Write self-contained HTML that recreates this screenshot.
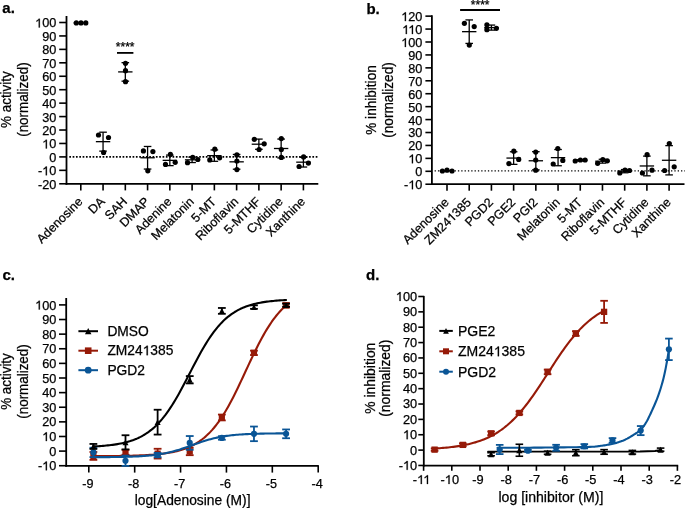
<!DOCTYPE html>
<html><head><meta charset="utf-8"><style>
html,body{margin:0;padding:0;background:#fff;}
body{width:685px;height:508px;overflow:hidden;}
svg{display:block;font-family:"Liberation Sans", sans-serif;will-change:transform;}
text{stroke:#000;stroke-width:0.25px;}
</style></head><body>
<svg width="685" height="508" viewBox="0 0 685 508">
<rect width="685" height="508" fill="#fff"/>
<text x="2.3" y="12.6" font-size="15" font-weight="bold">a.</text>
<text transform="translate(10.6 99.6) rotate(-90) scale(0.9091 1)" font-size="14.74" text-anchor="middle">% activity</text>
<text transform="translate(27.5 99.6) rotate(-90) scale(0.9091 1)" font-size="14.74" text-anchor="middle">(normalized)</text>
<line x1="69.3" y1="156.9" x2="319" y2="156.9" stroke="#000" stroke-width="1.6" stroke-dasharray="1.7 1.63"/>
<line x1="66.5" y1="16" x2="66.5" y2="184.7" stroke="#000" stroke-width="1.8"/>
<line x1="65.6" y1="183.8" x2="318.3" y2="183.8" stroke="#000" stroke-width="1.8"/>
<line x1="59.2" y1="22.5" x2="66.5" y2="22.5" stroke="#000" stroke-width="1.6"/>
<text x="35.11 42.17 49.24" y="27.47" font-size="12.7"> 00</text><path d="M763 0L583 0L583 1147C518 1085 412 1023 330 980C280 955 245 940 223 930L223 1104C300 1140 380 1190 453 1249C530 1310 570 1370 590 1409L763 1409Z" transform="translate(35.11 27.47) scale(0.00620 -0.00620)" stroke="#000" stroke-width="40.3"/>
<line x1="59.2" y1="35.94" x2="66.5" y2="35.94" stroke="#000" stroke-width="1.6"/>
<text x="56.3" y="40.91" font-size="12.7" text-anchor="end">90</text>
<line x1="59.2" y1="49.38" x2="66.5" y2="49.38" stroke="#000" stroke-width="1.6"/>
<text x="56.3" y="54.35" font-size="12.7" text-anchor="end">80</text>
<line x1="59.2" y1="62.82" x2="66.5" y2="62.82" stroke="#000" stroke-width="1.6"/>
<text x="56.3" y="67.79" font-size="12.7" text-anchor="end">70</text>
<line x1="59.2" y1="76.26" x2="66.5" y2="76.26" stroke="#000" stroke-width="1.6"/>
<text x="56.3" y="81.23" font-size="12.7" text-anchor="end">60</text>
<line x1="59.2" y1="89.7" x2="66.5" y2="89.7" stroke="#000" stroke-width="1.6"/>
<text x="56.3" y="94.67" font-size="12.7" text-anchor="end">50</text>
<line x1="59.2" y1="103.14" x2="66.5" y2="103.14" stroke="#000" stroke-width="1.6"/>
<text x="56.3" y="108.11" font-size="12.7" text-anchor="end">40</text>
<line x1="59.2" y1="116.58" x2="66.5" y2="116.58" stroke="#000" stroke-width="1.6"/>
<text x="56.3" y="121.55" font-size="12.7" text-anchor="end">30</text>
<line x1="59.2" y1="130.02" x2="66.5" y2="130.02" stroke="#000" stroke-width="1.6"/>
<text x="56.3" y="134.99" font-size="12.7" text-anchor="end">20</text>
<line x1="59.2" y1="143.46" x2="66.5" y2="143.46" stroke="#000" stroke-width="1.6"/>
<text x="42.17 49.24" y="148.43" font-size="12.7"> 0</text><path d="M763 0L583 0L583 1147C518 1085 412 1023 330 980C280 955 245 940 223 930L223 1104C300 1140 380 1190 453 1249C530 1310 570 1370 590 1409L763 1409Z" transform="translate(42.17 148.43) scale(0.00620 -0.00620)" stroke="#000" stroke-width="40.3"/>
<line x1="59.2" y1="156.9" x2="66.5" y2="156.9" stroke="#000" stroke-width="1.6"/>
<text x="56.3" y="161.87" font-size="12.7" text-anchor="end">0</text>
<line x1="59.2" y1="170.34" x2="66.5" y2="170.34" stroke="#000" stroke-width="1.6"/>
<text x="37.94 42.17 49.24" y="175.31" font-size="12.7">- 0</text><path d="M763 0L583 0L583 1147C518 1085 412 1023 330 980C280 955 245 940 223 930L223 1104C300 1140 380 1190 453 1249C530 1310 570 1370 590 1409L763 1409Z" transform="translate(42.17 175.31) scale(0.00620 -0.00620)" stroke="#000" stroke-width="40.3"/>
<line x1="59.2" y1="183.78" x2="66.5" y2="183.78" stroke="#000" stroke-width="1.6"/>
<text x="56.3" y="188.75" font-size="12.7" text-anchor="end">-20</text>
<line x1="80.8" y1="183.8" x2="80.8" y2="190.4" stroke="#000" stroke-width="1.6"/>
<text transform="translate(83.4 202.3) rotate(-45)" font-size="12.5" text-anchor="end">Adenosine</text>
<line x1="103.06" y1="183.8" x2="103.06" y2="190.4" stroke="#000" stroke-width="1.6"/>
<text transform="translate(105.66 202.3) rotate(-45)" font-size="12.5" text-anchor="end">DA</text>
<line x1="125.32" y1="183.8" x2="125.32" y2="190.4" stroke="#000" stroke-width="1.6"/>
<text transform="translate(127.92 202.3) rotate(-45)" font-size="12.5" text-anchor="end">SAH</text>
<line x1="147.58" y1="183.8" x2="147.58" y2="190.4" stroke="#000" stroke-width="1.6"/>
<text transform="translate(150.18 202.3) rotate(-45)" font-size="12.5" text-anchor="end">DMAP</text>
<line x1="169.84" y1="183.8" x2="169.84" y2="190.4" stroke="#000" stroke-width="1.6"/>
<text transform="translate(172.44 202.3) rotate(-45)" font-size="12.5" text-anchor="end">Adenine</text>
<line x1="192.1" y1="183.8" x2="192.1" y2="190.4" stroke="#000" stroke-width="1.6"/>
<text transform="translate(194.7 202.3) rotate(-45)" font-size="12.5" text-anchor="end">Melatonin</text>
<line x1="214.36" y1="183.8" x2="214.36" y2="190.4" stroke="#000" stroke-width="1.6"/>
<text transform="translate(216.96 202.3) rotate(-45)" font-size="12.5" text-anchor="end">5-MT</text>
<line x1="236.62" y1="183.8" x2="236.62" y2="190.4" stroke="#000" stroke-width="1.6"/>
<text transform="translate(239.22 202.3) rotate(-45)" font-size="12.5" text-anchor="end">Riboflavin</text>
<line x1="258.88" y1="183.8" x2="258.88" y2="190.4" stroke="#000" stroke-width="1.6"/>
<text transform="translate(261.48 202.3) rotate(-45)" font-size="12.5" text-anchor="end">5-MTHF</text>
<line x1="281.14" y1="183.8" x2="281.14" y2="190.4" stroke="#000" stroke-width="1.6"/>
<text transform="translate(283.74 202.3) rotate(-45)" font-size="12.5" text-anchor="end">Cytidine</text>
<line x1="303.4" y1="183.8" x2="303.4" y2="190.4" stroke="#000" stroke-width="1.6"/>
<text transform="translate(306 202.3) rotate(-45)" font-size="12.5" text-anchor="end">Xanthine</text>
<line x1="73.6" y1="22.9" x2="88" y2="22.9" stroke="#000" stroke-width="1.3"/>
<circle cx="76.3" cy="22.9" r="2.6" fill="#000"/>
<circle cx="81" cy="22.9" r="2.6" fill="#000"/>
<circle cx="85.8" cy="22.9" r="2.6" fill="#000"/>
<line x1="103.06" y1="132.2" x2="103.06" y2="151.13" stroke="#000" stroke-width="1.3"/>
<line x1="99.26" y1="132.2" x2="106.86" y2="132.2" stroke="#000" stroke-width="1.3"/>
<line x1="99.26" y1="151.13" x2="106.86" y2="151.13" stroke="#000" stroke-width="1.3"/>
<line x1="95.86" y1="141.67" x2="110.26" y2="141.67" stroke="#000" stroke-width="1.3"/>
<circle cx="98.5" cy="135" r="2.6" fill="#000"/>
<circle cx="108.5" cy="137.5" r="2.6" fill="#000"/>
<circle cx="103.6" cy="152.5" r="2.6" fill="#000"/>
<line x1="125.32" y1="62.64" x2="125.32" y2="81.16" stroke="#000" stroke-width="1.3"/>
<line x1="121.52" y1="62.64" x2="129.12" y2="62.64" stroke="#000" stroke-width="1.3"/>
<line x1="121.52" y1="81.16" x2="129.12" y2="81.16" stroke="#000" stroke-width="1.3"/>
<line x1="118.12" y1="71.9" x2="132.52" y2="71.9" stroke="#000" stroke-width="1.3"/>
<circle cx="125.5" cy="63.3" r="2.6" fill="#000"/>
<circle cx="125.5" cy="70.7" r="2.6" fill="#000"/>
<circle cx="125.5" cy="81.7" r="2.6" fill="#000"/>
<line x1="147.58" y1="146.47" x2="147.58" y2="169.06" stroke="#000" stroke-width="1.3"/>
<line x1="143.78" y1="146.47" x2="151.38" y2="146.47" stroke="#000" stroke-width="1.3"/>
<line x1="143.78" y1="169.06" x2="151.38" y2="169.06" stroke="#000" stroke-width="1.3"/>
<line x1="140.38" y1="157.77" x2="154.78" y2="157.77" stroke="#000" stroke-width="1.3"/>
<circle cx="143.4" cy="150.9" r="2.6" fill="#000"/>
<circle cx="152.9" cy="151.6" r="2.6" fill="#000"/>
<circle cx="147.8" cy="170.8" r="2.6" fill="#000"/>
<line x1="169.84" y1="155.09" x2="169.84" y2="165.64" stroke="#000" stroke-width="1.3"/>
<line x1="166.04" y1="155.09" x2="173.64" y2="155.09" stroke="#000" stroke-width="1.3"/>
<line x1="166.04" y1="165.64" x2="173.64" y2="165.64" stroke="#000" stroke-width="1.3"/>
<line x1="162.64" y1="160.37" x2="177.04" y2="160.37" stroke="#000" stroke-width="1.3"/>
<circle cx="170.4" cy="154.4" r="2.6" fill="#000"/>
<circle cx="165.5" cy="164.4" r="2.6" fill="#000"/>
<circle cx="175.2" cy="162.3" r="2.6" fill="#000"/>
<line x1="192.1" y1="157.12" x2="192.1" y2="162.55" stroke="#000" stroke-width="1.3"/>
<line x1="188.3" y1="157.12" x2="195.9" y2="157.12" stroke="#000" stroke-width="1.3"/>
<line x1="188.3" y1="162.55" x2="195.9" y2="162.55" stroke="#000" stroke-width="1.3"/>
<line x1="184.9" y1="159.83" x2="199.3" y2="159.83" stroke="#000" stroke-width="1.3"/>
<circle cx="192.7" cy="157.3" r="2.6" fill="#000"/>
<circle cx="187.5" cy="162.7" r="2.6" fill="#000"/>
<circle cx="197.8" cy="159.5" r="2.6" fill="#000"/>
<line x1="214.36" y1="149.96" x2="214.36" y2="161.3" stroke="#000" stroke-width="1.3"/>
<line x1="210.56" y1="149.96" x2="218.16" y2="149.96" stroke="#000" stroke-width="1.3"/>
<line x1="210.56" y1="161.3" x2="218.16" y2="161.3" stroke="#000" stroke-width="1.3"/>
<line x1="207.16" y1="155.63" x2="221.56" y2="155.63" stroke="#000" stroke-width="1.3"/>
<circle cx="214.8" cy="149.2" r="2.6" fill="#000"/>
<circle cx="209.8" cy="159.9" r="2.6" fill="#000"/>
<circle cx="219.6" cy="157.8" r="2.6" fill="#000"/>
<line x1="236.62" y1="154.45" x2="236.62" y2="169.22" stroke="#000" stroke-width="1.3"/>
<line x1="232.82" y1="154.45" x2="240.42" y2="154.45" stroke="#000" stroke-width="1.3"/>
<line x1="232.82" y1="169.22" x2="240.42" y2="169.22" stroke="#000" stroke-width="1.3"/>
<line x1="229.42" y1="161.83" x2="243.82" y2="161.83" stroke="#000" stroke-width="1.3"/>
<circle cx="236.9" cy="154.9" r="2.6" fill="#000"/>
<circle cx="236.9" cy="161" r="2.6" fill="#000"/>
<circle cx="236.9" cy="169.6" r="2.6" fill="#000"/>
<line x1="258.88" y1="139.09" x2="258.88" y2="149.31" stroke="#000" stroke-width="1.3"/>
<line x1="255.08" y1="139.09" x2="262.68" y2="139.09" stroke="#000" stroke-width="1.3"/>
<line x1="255.08" y1="149.31" x2="262.68" y2="149.31" stroke="#000" stroke-width="1.3"/>
<line x1="251.68" y1="144.2" x2="266.08" y2="144.2" stroke="#000" stroke-width="1.3"/>
<circle cx="254.3" cy="139.3" r="2.6" fill="#000"/>
<circle cx="264.2" cy="143.8" r="2.6" fill="#000"/>
<circle cx="259.1" cy="149.5" r="2.6" fill="#000"/>
<line x1="281.14" y1="139.06" x2="281.14" y2="157.94" stroke="#000" stroke-width="1.3"/>
<line x1="277.34" y1="139.06" x2="284.94" y2="139.06" stroke="#000" stroke-width="1.3"/>
<line x1="277.34" y1="157.94" x2="284.94" y2="157.94" stroke="#000" stroke-width="1.3"/>
<line x1="273.94" y1="148.5" x2="288.34" y2="148.5" stroke="#000" stroke-width="1.3"/>
<circle cx="281.3" cy="138.6" r="2.6" fill="#000"/>
<circle cx="281.3" cy="149.5" r="2.6" fill="#000"/>
<circle cx="281.3" cy="157.4" r="2.6" fill="#000"/>
<line x1="303.4" y1="157.3" x2="303.4" y2="167.03" stroke="#000" stroke-width="1.3"/>
<line x1="299.6" y1="157.3" x2="307.2" y2="157.3" stroke="#000" stroke-width="1.3"/>
<line x1="299.6" y1="167.03" x2="307.2" y2="167.03" stroke="#000" stroke-width="1.3"/>
<line x1="296.2" y1="162.17" x2="310.6" y2="162.17" stroke="#000" stroke-width="1.3"/>
<circle cx="303.6" cy="156.9" r="2.6" fill="#000"/>
<circle cx="299.1" cy="166.5" r="2.6" fill="#000"/>
<circle cx="308.4" cy="163.1" r="2.6" fill="#000"/>
<line x1="117" y1="52.9" x2="133.4" y2="52.9" stroke="#000" stroke-width="1.8"/>
<text x="125.2" y="51" font-size="12" text-anchor="middle">****</text>
<text x="366.4" y="14" font-size="15" font-weight="bold">b.</text>
<text transform="translate(376.3 100) rotate(-90) scale(0.9091 1)" font-size="14.96" text-anchor="middle">% inhibition</text>
<text transform="translate(393 100) rotate(-90) scale(0.9091 1)" font-size="14.96" text-anchor="middle">(normalized)</text>
<line x1="434.6" y1="170.9" x2="685" y2="170.9" stroke="#000" stroke-width="1.4" stroke-dasharray="1.3 2.03"/>
<line x1="431.9" y1="15.2" x2="431.9" y2="185" stroke="#000" stroke-width="1.8"/>
<line x1="431" y1="184.1" x2="684.5" y2="184.1" stroke="#000" stroke-width="1.8"/>
<line x1="425.4" y1="16.14" x2="431.9" y2="16.14" stroke="#000" stroke-width="1.6"/>
<text x="401.21 408.27 415.34" y="21.11" font-size="12.7"> 20</text><path d="M763 0L583 0L583 1147C518 1085 412 1023 330 980C280 955 245 940 223 930L223 1104C300 1140 380 1190 453 1249C530 1310 570 1370 590 1409L763 1409Z" transform="translate(401.21 21.11) scale(0.00620 -0.00620)" stroke="#000" stroke-width="40.3"/>
<line x1="425.4" y1="29.07" x2="431.9" y2="29.07" stroke="#000" stroke-width="1.6"/>
<text x="402.15 408.27 415.34" y="34.04" font-size="12.7">  0</text><path d="M763 0L583 0L583 1147C518 1085 412 1023 330 980C280 955 245 940 223 930L223 1104C300 1140 380 1190 453 1249C530 1310 570 1370 590 1409L763 1409Z" transform="translate(402.15 34.04) scale(0.00620 -0.00620)" stroke="#000" stroke-width="40.3"/><path d="M763 0L583 0L583 1147C518 1085 412 1023 330 980C280 955 245 940 223 930L223 1104C300 1140 380 1190 453 1249C530 1310 570 1370 590 1409L763 1409Z" transform="translate(408.27 34.04) scale(0.00620 -0.00620)" stroke="#000" stroke-width="40.3"/>
<line x1="425.4" y1="42" x2="431.9" y2="42" stroke="#000" stroke-width="1.6"/>
<text x="401.21 408.27 415.34" y="46.97" font-size="12.7"> 00</text><path d="M763 0L583 0L583 1147C518 1085 412 1023 330 980C280 955 245 940 223 930L223 1104C300 1140 380 1190 453 1249C530 1310 570 1370 590 1409L763 1409Z" transform="translate(401.21 46.97) scale(0.00620 -0.00620)" stroke="#000" stroke-width="40.3"/>
<line x1="425.4" y1="54.93" x2="431.9" y2="54.93" stroke="#000" stroke-width="1.6"/>
<text x="422.4" y="59.9" font-size="12.7" text-anchor="end">90</text>
<line x1="425.4" y1="67.86" x2="431.9" y2="67.86" stroke="#000" stroke-width="1.6"/>
<text x="422.4" y="72.83" font-size="12.7" text-anchor="end">80</text>
<line x1="425.4" y1="80.79" x2="431.9" y2="80.79" stroke="#000" stroke-width="1.6"/>
<text x="422.4" y="85.76" font-size="12.7" text-anchor="end">70</text>
<line x1="425.4" y1="93.72" x2="431.9" y2="93.72" stroke="#000" stroke-width="1.6"/>
<text x="422.4" y="98.69" font-size="12.7" text-anchor="end">60</text>
<line x1="425.4" y1="106.65" x2="431.9" y2="106.65" stroke="#000" stroke-width="1.6"/>
<text x="422.4" y="111.62" font-size="12.7" text-anchor="end">50</text>
<line x1="425.4" y1="119.58" x2="431.9" y2="119.58" stroke="#000" stroke-width="1.6"/>
<text x="422.4" y="124.55" font-size="12.7" text-anchor="end">40</text>
<line x1="425.4" y1="132.51" x2="431.9" y2="132.51" stroke="#000" stroke-width="1.6"/>
<text x="422.4" y="137.48" font-size="12.7" text-anchor="end">30</text>
<line x1="425.4" y1="145.44" x2="431.9" y2="145.44" stroke="#000" stroke-width="1.6"/>
<text x="422.4" y="150.41" font-size="12.7" text-anchor="end">20</text>
<line x1="425.4" y1="158.37" x2="431.9" y2="158.37" stroke="#000" stroke-width="1.6"/>
<text x="408.27 415.34" y="163.34" font-size="12.7"> 0</text><path d="M763 0L583 0L583 1147C518 1085 412 1023 330 980C280 955 245 940 223 930L223 1104C300 1140 380 1190 453 1249C530 1310 570 1370 590 1409L763 1409Z" transform="translate(408.27 163.34) scale(0.00620 -0.00620)" stroke="#000" stroke-width="40.3"/>
<line x1="425.4" y1="171.3" x2="431.9" y2="171.3" stroke="#000" stroke-width="1.6"/>
<text x="422.4" y="176.27" font-size="12.7" text-anchor="end">0</text>
<line x1="425.4" y1="184.23" x2="431.9" y2="184.23" stroke="#000" stroke-width="1.6"/>
<text x="404.04 408.27 415.34" y="189.2" font-size="12.7">- 0</text><path d="M763 0L583 0L583 1147C518 1085 412 1023 330 980C280 955 245 940 223 930L223 1104C300 1140 380 1190 453 1249C530 1310 570 1370 590 1409L763 1409Z" transform="translate(408.27 189.20) scale(0.00620 -0.00620)" stroke="#000" stroke-width="40.3"/>
<line x1="447" y1="184.1" x2="447" y2="190.7" stroke="#000" stroke-width="1.6"/>
<text transform="translate(449.6 203) rotate(-45)" font-size="12.5" text-anchor="end">Adenosine</text>
<line x1="469.21" y1="184.1" x2="469.21" y2="190.7" stroke="#000" stroke-width="1.6"/>
<g transform="translate(471.81 203) rotate(-45)"><text x="-59.76 -52.12 -41.71 -34.76 -27.81 -20.86 -13.90 -6.95" y="0" font-size="12.5">ZM24 385</text><path d="M763 0L583 0L583 1147C518 1085 412 1023 330 980C280 955 245 940 223 930L223 1104C300 1140 380 1190 453 1249C530 1310 570 1370 590 1409L763 1409Z" transform="translate(-27.81 0.00) scale(0.00610 -0.00610)" stroke="#000" stroke-width="41.0"/></g>
<line x1="491.42" y1="184.1" x2="491.42" y2="190.7" stroke="#000" stroke-width="1.6"/>
<text transform="translate(494.02 203) rotate(-45)" font-size="12.5" text-anchor="end">PGD2</text>
<line x1="513.63" y1="184.1" x2="513.63" y2="190.7" stroke="#000" stroke-width="1.6"/>
<text transform="translate(516.23 203) rotate(-45)" font-size="12.5" text-anchor="end">PGE2</text>
<line x1="535.84" y1="184.1" x2="535.84" y2="190.7" stroke="#000" stroke-width="1.6"/>
<text transform="translate(538.44 203) rotate(-45)" font-size="12.5" text-anchor="end">PGI2</text>
<line x1="558.05" y1="184.1" x2="558.05" y2="190.7" stroke="#000" stroke-width="1.6"/>
<text transform="translate(560.65 203) rotate(-45)" font-size="12.5" text-anchor="end">Melatonin</text>
<line x1="580.26" y1="184.1" x2="580.26" y2="190.7" stroke="#000" stroke-width="1.6"/>
<text transform="translate(582.86 203) rotate(-45)" font-size="12.5" text-anchor="end">5-MT</text>
<line x1="602.47" y1="184.1" x2="602.47" y2="190.7" stroke="#000" stroke-width="1.6"/>
<text transform="translate(605.07 203) rotate(-45)" font-size="12.5" text-anchor="end">Riboflavin</text>
<line x1="624.68" y1="184.1" x2="624.68" y2="190.7" stroke="#000" stroke-width="1.6"/>
<text transform="translate(627.28 203) rotate(-45)" font-size="12.5" text-anchor="end">5-MTHF</text>
<line x1="646.89" y1="184.1" x2="646.89" y2="190.7" stroke="#000" stroke-width="1.6"/>
<text transform="translate(649.49 203) rotate(-45)" font-size="12.5" text-anchor="end">Cytidine</text>
<line x1="669.1" y1="184.1" x2="669.1" y2="190.7" stroke="#000" stroke-width="1.6"/>
<text transform="translate(671.7 203) rotate(-45)" font-size="12.5" text-anchor="end">Xanthine</text>
<line x1="439.8" y1="170.73" x2="454.2" y2="170.73" stroke="#000" stroke-width="1.3"/>
<circle cx="442.4" cy="171" r="2.6" fill="#000"/>
<circle cx="447" cy="170.2" r="2.6" fill="#000"/>
<circle cx="452" cy="171" r="2.6" fill="#000"/>
<line x1="469.21" y1="19.92" x2="469.21" y2="43.42" stroke="#000" stroke-width="1.3"/>
<line x1="465.41" y1="19.92" x2="473.01" y2="19.92" stroke="#000" stroke-width="1.3"/>
<line x1="465.41" y1="43.42" x2="473.01" y2="43.42" stroke="#000" stroke-width="1.3"/>
<line x1="462.01" y1="31.67" x2="476.41" y2="31.67" stroke="#000" stroke-width="1.3"/>
<circle cx="464.4" cy="23.3" r="2.6" fill="#000"/>
<circle cx="474.2" cy="26.6" r="2.6" fill="#000"/>
<circle cx="469.3" cy="45.1" r="2.6" fill="#000"/>
<line x1="491.42" y1="25.08" x2="491.42" y2="30.12" stroke="#000" stroke-width="1.3"/>
<line x1="487.62" y1="25.08" x2="495.22" y2="25.08" stroke="#000" stroke-width="1.3"/>
<line x1="487.62" y1="30.12" x2="495.22" y2="30.12" stroke="#000" stroke-width="1.3"/>
<line x1="484.22" y1="27.6" x2="498.62" y2="27.6" stroke="#000" stroke-width="1.3"/>
<circle cx="486.9" cy="24.8" r="2.6" fill="#000"/>
<circle cx="486.9" cy="29.7" r="2.6" fill="#000"/>
<circle cx="496.4" cy="28.3" r="2.6" fill="#000"/>
<line x1="513.63" y1="151.76" x2="513.63" y2="164.37" stroke="#000" stroke-width="1.3"/>
<line x1="509.83" y1="151.76" x2="517.43" y2="151.76" stroke="#000" stroke-width="1.3"/>
<line x1="509.83" y1="164.37" x2="517.43" y2="164.37" stroke="#000" stroke-width="1.3"/>
<line x1="506.43" y1="158.07" x2="520.83" y2="158.07" stroke="#000" stroke-width="1.3"/>
<circle cx="513.8" cy="151.2" r="2.6" fill="#000"/>
<circle cx="508.9" cy="163.6" r="2.6" fill="#000"/>
<circle cx="518.7" cy="159.4" r="2.6" fill="#000"/>
<line x1="535.84" y1="151.69" x2="535.84" y2="169.84" stroke="#000" stroke-width="1.3"/>
<line x1="532.04" y1="151.69" x2="539.64" y2="151.69" stroke="#000" stroke-width="1.3"/>
<line x1="532.04" y1="169.84" x2="539.64" y2="169.84" stroke="#000" stroke-width="1.3"/>
<line x1="528.64" y1="160.77" x2="543.04" y2="160.77" stroke="#000" stroke-width="1.3"/>
<circle cx="535.7" cy="152.1" r="2.6" fill="#000"/>
<circle cx="535.7" cy="160" r="2.6" fill="#000"/>
<circle cx="535.7" cy="170.2" r="2.6" fill="#000"/>
<line x1="558.05" y1="149.52" x2="558.05" y2="165.75" stroke="#000" stroke-width="1.3"/>
<line x1="554.25" y1="149.52" x2="561.85" y2="149.52" stroke="#000" stroke-width="1.3"/>
<line x1="554.25" y1="165.75" x2="561.85" y2="165.75" stroke="#000" stroke-width="1.3"/>
<line x1="550.85" y1="157.63" x2="565.25" y2="157.63" stroke="#000" stroke-width="1.3"/>
<circle cx="557.8" cy="148.5" r="2.6" fill="#000"/>
<circle cx="553.2" cy="164" r="2.6" fill="#000"/>
<circle cx="562.8" cy="160.4" r="2.6" fill="#000"/>
<line x1="580.26" y1="159.76" x2="580.26" y2="160.91" stroke="#000" stroke-width="1.3"/>
<line x1="576.46" y1="159.76" x2="584.06" y2="159.76" stroke="#000" stroke-width="1.3"/>
<line x1="576.46" y1="160.91" x2="584.06" y2="160.91" stroke="#000" stroke-width="1.3"/>
<line x1="573.06" y1="160.33" x2="587.46" y2="160.33" stroke="#000" stroke-width="1.3"/>
<circle cx="575.2" cy="161" r="2.6" fill="#000"/>
<circle cx="580.4" cy="160" r="2.6" fill="#000"/>
<circle cx="585.1" cy="160" r="2.6" fill="#000"/>
<line x1="602.47" y1="159.27" x2="602.47" y2="163.13" stroke="#000" stroke-width="1.3"/>
<line x1="598.67" y1="159.27" x2="606.27" y2="159.27" stroke="#000" stroke-width="1.3"/>
<line x1="598.67" y1="163.13" x2="606.27" y2="163.13" stroke="#000" stroke-width="1.3"/>
<line x1="595.27" y1="161.2" x2="609.67" y2="161.2" stroke="#000" stroke-width="1.3"/>
<circle cx="597.6" cy="163.3" r="2.6" fill="#000"/>
<circle cx="602.8" cy="159.5" r="2.6" fill="#000"/>
<circle cx="607.3" cy="160.8" r="2.6" fill="#000"/>
<line x1="624.68" y1="169.56" x2="624.68" y2="172.77" stroke="#000" stroke-width="1.3"/>
<line x1="620.88" y1="169.56" x2="628.48" y2="169.56" stroke="#000" stroke-width="1.3"/>
<line x1="620.88" y1="172.77" x2="628.48" y2="172.77" stroke="#000" stroke-width="1.3"/>
<line x1="617.48" y1="171.17" x2="631.88" y2="171.17" stroke="#000" stroke-width="1.3"/>
<circle cx="619.8" cy="173" r="2.6" fill="#000"/>
<circle cx="625" cy="170" r="2.6" fill="#000"/>
<circle cx="629.5" cy="170.5" r="2.6" fill="#000"/>
<line x1="646.89" y1="156.11" x2="646.89" y2="175.82" stroke="#000" stroke-width="1.3"/>
<line x1="643.09" y1="156.11" x2="650.69" y2="156.11" stroke="#000" stroke-width="1.3"/>
<line x1="643.09" y1="175.82" x2="650.69" y2="175.82" stroke="#000" stroke-width="1.3"/>
<line x1="639.69" y1="165.97" x2="654.09" y2="165.97" stroke="#000" stroke-width="1.3"/>
<circle cx="647.1" cy="154.7" r="2.6" fill="#000"/>
<circle cx="642.4" cy="173" r="2.6" fill="#000"/>
<circle cx="652" cy="170.2" r="2.6" fill="#000"/>
<line x1="669.1" y1="145.63" x2="669.1" y2="174.9" stroke="#000" stroke-width="1.3"/>
<line x1="665.3" y1="145.63" x2="672.9" y2="145.63" stroke="#000" stroke-width="1.3"/>
<line x1="665.3" y1="174.9" x2="672.9" y2="174.9" stroke="#000" stroke-width="1.3"/>
<line x1="661.9" y1="160.27" x2="676.3" y2="160.27" stroke="#000" stroke-width="1.3"/>
<circle cx="669.3" cy="143.5" r="2.6" fill="#000"/>
<circle cx="664.6" cy="170.5" r="2.6" fill="#000"/>
<circle cx="674.2" cy="166.8" r="2.6" fill="#000"/>
<line x1="460.1" y1="10" x2="500" y2="10" stroke="#000" stroke-width="1.8"/>
<text x="480.2" y="9.3" font-size="12" text-anchor="middle">****</text>
<text x="2.5" y="280.3" font-size="15" font-weight="bold">c.</text>
<text transform="translate(10.6 381.5) rotate(-90) scale(0.9091 1)" font-size="14.74" text-anchor="middle">% activity</text>
<text transform="translate(27.5 381.5) rotate(-90) scale(0.9091 1)" font-size="14.74" text-anchor="middle">(normalized)</text>
<line x1="66.2" y1="298" x2="66.2" y2="466.7" stroke="#000" stroke-width="1.8"/>
<line x1="65.3" y1="465.8" x2="318.8" y2="465.8" stroke="#000" stroke-width="1.8"/>
<line x1="59" y1="304.9" x2="66.2" y2="304.9" stroke="#000" stroke-width="1.6"/>
<text x="35.11 42.17 49.24" y="309.5" font-size="12.7"> 00</text><path d="M763 0L583 0L583 1147C518 1085 412 1023 330 980C280 955 245 940 223 930L223 1104C300 1140 380 1190 453 1249C530 1310 570 1370 590 1409L763 1409Z" transform="translate(35.11 309.50) scale(0.00620 -0.00620)" stroke="#000" stroke-width="40.3"/>
<line x1="59" y1="319.52" x2="66.2" y2="319.52" stroke="#000" stroke-width="1.6"/>
<text x="56.3" y="324.12" font-size="12.7" text-anchor="end">90</text>
<line x1="59" y1="334.14" x2="66.2" y2="334.14" stroke="#000" stroke-width="1.6"/>
<text x="56.3" y="338.74" font-size="12.7" text-anchor="end">80</text>
<line x1="59" y1="348.76" x2="66.2" y2="348.76" stroke="#000" stroke-width="1.6"/>
<text x="56.3" y="353.36" font-size="12.7" text-anchor="end">70</text>
<line x1="59" y1="363.38" x2="66.2" y2="363.38" stroke="#000" stroke-width="1.6"/>
<text x="56.3" y="367.98" font-size="12.7" text-anchor="end">60</text>
<line x1="59" y1="378" x2="66.2" y2="378" stroke="#000" stroke-width="1.6"/>
<text x="56.3" y="382.6" font-size="12.7" text-anchor="end">50</text>
<line x1="59" y1="392.62" x2="66.2" y2="392.62" stroke="#000" stroke-width="1.6"/>
<text x="56.3" y="397.22" font-size="12.7" text-anchor="end">40</text>
<line x1="59" y1="407.24" x2="66.2" y2="407.24" stroke="#000" stroke-width="1.6"/>
<text x="56.3" y="411.84" font-size="12.7" text-anchor="end">30</text>
<line x1="59" y1="421.86" x2="66.2" y2="421.86" stroke="#000" stroke-width="1.6"/>
<text x="56.3" y="426.46" font-size="12.7" text-anchor="end">20</text>
<line x1="59" y1="436.48" x2="66.2" y2="436.48" stroke="#000" stroke-width="1.6"/>
<text x="42.17 49.24" y="441.08" font-size="12.7"> 0</text><path d="M763 0L583 0L583 1147C518 1085 412 1023 330 980C280 955 245 940 223 930L223 1104C300 1140 380 1190 453 1249C530 1310 570 1370 590 1409L763 1409Z" transform="translate(42.17 441.08) scale(0.00620 -0.00620)" stroke="#000" stroke-width="40.3"/>
<line x1="59" y1="451.1" x2="66.2" y2="451.1" stroke="#000" stroke-width="1.6"/>
<text x="56.3" y="455.7" font-size="12.7" text-anchor="end">0</text>
<line x1="59" y1="465.72" x2="66.2" y2="465.72" stroke="#000" stroke-width="1.6"/>
<text x="37.94 42.17 49.24" y="470.32" font-size="12.7">- 0</text><path d="M763 0L583 0L583 1147C518 1085 412 1023 330 980C280 955 245 940 223 930L223 1104C300 1140 380 1190 453 1249C530 1310 570 1370 590 1409L763 1409Z" transform="translate(42.17 470.32) scale(0.00620 -0.00620)" stroke="#000" stroke-width="40.3"/>
<line x1="88.8" y1="465.8" x2="88.8" y2="472.6" stroke="#000" stroke-width="1.6"/>
<text x="87.8" y="487.6" font-size="12.6" text-anchor="middle">-9</text>
<line x1="134.68" y1="465.8" x2="134.68" y2="472.6" stroke="#000" stroke-width="1.6"/>
<text x="133.68" y="487.6" font-size="12.6" text-anchor="middle">-8</text>
<line x1="180.56" y1="465.8" x2="180.56" y2="472.6" stroke="#000" stroke-width="1.6"/>
<text x="179.56" y="487.6" font-size="12.6" text-anchor="middle">-7</text>
<line x1="226.44" y1="465.8" x2="226.44" y2="472.6" stroke="#000" stroke-width="1.6"/>
<text x="225.44" y="487.6" font-size="12.6" text-anchor="middle">-6</text>
<line x1="272.32" y1="465.8" x2="272.32" y2="472.6" stroke="#000" stroke-width="1.6"/>
<text x="271.32" y="487.6" font-size="12.6" text-anchor="middle">-5</text>
<line x1="318.2" y1="465.8" x2="318.2" y2="472.6" stroke="#000" stroke-width="1.6"/>
<text x="317.2" y="487.6" font-size="12.6" text-anchor="middle">-4</text>
<text x="192.6" y="505.1" font-size="13.8" text-anchor="middle">log[Adenosine (M)]</text>
<path d="M93.39 456.14 L94.99 456.14 L96.6 456.13 L98.21 456.12 L99.81 456.11 L101.42 456.1 L103.02 456.09 L104.63 456.08 L106.23 456.07 L107.84 456.06 L109.45 456.05 L111.05 456.03 L112.66 456.02 L114.26 456 L115.87 455.98 L117.47 455.96 L119.08 455.94 L120.69 455.92 L122.29 455.89 L123.9 455.86 L125.5 455.83 L127.11 455.8 L128.72 455.77 L130.32 455.73 L131.93 455.69 L133.53 455.64 L135.14 455.59 L136.74 455.54 L138.35 455.48 L139.96 455.42 L141.56 455.35 L143.17 455.28 L144.77 455.2 L146.38 455.12 L147.99 455.02 L149.59 454.92 L151.2 454.81 L152.8 454.7 L154.41 454.57 L156.01 454.43 L157.62 454.28 L159.23 454.12 L160.83 453.94 L162.44 453.75 L164.04 453.55 L165.65 453.32 L167.25 453.08 L168.86 452.82 L170.47 452.54 L172.07 452.24 L173.68 451.91 L175.28 451.55 L176.89 451.17 L178.5 450.75 L180.1 450.31 L181.71 449.82 L183.31 449.3 L184.92 448.74 L186.52 448.14 L188.13 447.49 L189.74 446.79 L191.34 446.04 L192.95 445.23 L194.55 444.36 L196.16 443.44 L197.76 442.44 L199.37 441.37 L200.98 440.23 L202.58 439.01 L204.19 437.71 L205.79 436.33 L207.4 434.85 L209.01 433.28 L210.61 431.62 L212.22 429.86 L213.82 427.99 L215.43 426.02 L217.03 423.95 L218.64 421.76 L220.25 419.47 L221.85 417.07 L223.46 414.57 L225.06 411.95 L226.67 409.23 L228.28 406.41 L229.88 403.5 L231.49 400.49 L233.09 397.4 L234.7 394.22 L236.3 390.98 L237.91 387.67 L239.52 384.32 L241.12 380.91 L242.73 377.48 L244.33 374.03 L245.94 370.56 L247.54 367.1 L249.15 363.65 L250.76 360.22 L252.36 356.83 L253.97 353.49 L255.57 350.2 L257.18 346.97 L258.79 343.82 L260.39 340.75 L262 337.77 L263.6 334.88 L265.21 332.09 L266.81 329.4 L268.42 326.82 L270.03 324.34 L271.63 321.97 L273.24 319.71 L274.84 317.56 L276.45 315.52 L278.06 313.58 L279.66 311.74 L281.27 310.01 L282.87 308.37 L284.48 306.83 L286.08 305.38" fill="none" stroke="#961a08" stroke-width="2.1" stroke-linejoin="round" stroke-linecap="round"/>
<line x1="93.39" y1="451.98" x2="93.39" y2="459.87" stroke="#961a08" stroke-width="1.8"/>
<line x1="89.49" y1="451.98" x2="97.29" y2="451.98" stroke="#961a08" stroke-width="1.8"/>
<line x1="89.49" y1="459.87" x2="97.29" y2="459.87" stroke="#961a08" stroke-width="1.8"/>
<rect x="90.29" y="452.82" width="6.2" height="6.2" fill="#961a08"/>
<line x1="125.5" y1="449.78" x2="125.5" y2="454.75" stroke="#961a08" stroke-width="1.8"/>
<line x1="121.6" y1="449.78" x2="129.4" y2="449.78" stroke="#961a08" stroke-width="1.8"/>
<line x1="121.6" y1="454.75" x2="129.4" y2="454.75" stroke="#961a08" stroke-width="1.8"/>
<rect x="122.4" y="449.17" width="6.2" height="6.2" fill="#961a08"/>
<line x1="157.62" y1="448.76" x2="157.62" y2="458.56" stroke="#961a08" stroke-width="1.8"/>
<line x1="153.72" y1="448.76" x2="161.52" y2="448.76" stroke="#961a08" stroke-width="1.8"/>
<line x1="153.72" y1="458.56" x2="161.52" y2="458.56" stroke="#961a08" stroke-width="1.8"/>
<rect x="154.52" y="450.56" width="6.2" height="6.2" fill="#961a08"/>
<line x1="189.74" y1="447.88" x2="189.74" y2="455.19" stroke="#961a08" stroke-width="1.8"/>
<line x1="185.84" y1="447.88" x2="193.64" y2="447.88" stroke="#961a08" stroke-width="1.8"/>
<line x1="185.84" y1="455.19" x2="193.64" y2="455.19" stroke="#961a08" stroke-width="1.8"/>
<rect x="186.64" y="448.44" width="6.2" height="6.2" fill="#961a08"/>
<line x1="221.85" y1="414.55" x2="221.85" y2="420.4" stroke="#961a08" stroke-width="1.8"/>
<line x1="217.95" y1="414.55" x2="225.75" y2="414.55" stroke="#961a08" stroke-width="1.8"/>
<line x1="217.95" y1="420.4" x2="225.75" y2="420.4" stroke="#961a08" stroke-width="1.8"/>
<rect x="218.75" y="414.37" width="6.2" height="6.2" fill="#961a08"/>
<line x1="253.97" y1="350.66" x2="253.97" y2="355.05" stroke="#961a08" stroke-width="1.8"/>
<line x1="250.07" y1="350.66" x2="257.87" y2="350.66" stroke="#961a08" stroke-width="1.8"/>
<line x1="250.07" y1="355.05" x2="257.87" y2="355.05" stroke="#961a08" stroke-width="1.8"/>
<rect x="250.87" y="349.75" width="6.2" height="6.2" fill="#961a08"/>
<line x1="286.08" y1="303.15" x2="286.08" y2="307.53" stroke="#961a08" stroke-width="1.8"/>
<line x1="282.18" y1="303.15" x2="289.98" y2="303.15" stroke="#961a08" stroke-width="1.8"/>
<line x1="282.18" y1="307.53" x2="289.98" y2="307.53" stroke="#961a08" stroke-width="1.8"/>
<rect x="282.98" y="302.24" width="6.2" height="6.2" fill="#961a08"/>
<path d="M93.39 457.18 L94.99 457.17 L96.6 457.16 L98.21 457.16 L99.81 457.15 L101.42 457.14 L103.02 457.13 L104.63 457.12 L106.23 457.1 L107.84 457.09 L109.45 457.08 L111.05 457.06 L112.66 457.04 L114.26 457.02 L115.87 457 L117.47 456.97 L119.08 456.95 L120.69 456.92 L122.29 456.89 L123.9 456.85 L125.5 456.81 L127.11 456.77 L128.72 456.72 L130.32 456.67 L131.93 456.61 L133.53 456.55 L135.14 456.49 L136.74 456.41 L138.35 456.33 L139.96 456.24 L141.56 456.15 L143.17 456.04 L144.77 455.92 L146.38 455.8 L147.99 455.66 L149.59 455.51 L151.2 455.35 L152.8 455.18 L154.41 454.99 L156.01 454.78 L157.62 454.56 L159.23 454.32 L160.83 454.06 L162.44 453.79 L164.04 453.49 L165.65 453.18 L167.25 452.84 L168.86 452.48 L170.47 452.1 L172.07 451.7 L173.68 451.28 L175.28 450.83 L176.89 450.37 L178.5 449.88 L180.1 449.38 L181.71 448.86 L183.31 448.33 L184.92 447.78 L186.52 447.22 L188.13 446.65 L189.74 446.08 L191.34 445.5 L192.95 444.92 L194.55 444.34 L196.16 443.77 L197.76 443.2 L199.37 442.64 L200.98 442.1 L202.58 441.57 L204.19 441.05 L205.79 440.55 L207.4 440.07 L209.01 439.61 L210.61 439.17 L212.22 438.75 L213.82 438.35 L215.43 437.97 L217.03 437.62 L218.64 437.28 L220.25 436.97 L221.85 436.68 L223.46 436.4 L225.06 436.15 L226.67 435.91 L228.28 435.69 L229.88 435.49 L231.49 435.3 L233.09 435.13 L234.7 434.97 L236.3 434.82 L237.91 434.69 L239.52 434.56 L241.12 434.45 L242.73 434.34 L244.33 434.25 L245.94 434.16 L247.54 434.08 L249.15 434.01 L250.76 433.94 L252.36 433.88 L253.97 433.83 L255.57 433.77 L257.18 433.73 L258.79 433.69 L260.39 433.65 L262 433.61 L263.6 433.58 L265.21 433.55 L266.81 433.53 L268.42 433.5 L270.03 433.48 L271.63 433.46 L273.24 433.44 L274.84 433.43 L276.45 433.41 L278.06 433.4 L279.66 433.39 L281.27 433.37 L282.87 433.36 L284.48 433.35 L286.08 433.35" fill="none" stroke="#0a5596" stroke-width="2.1" stroke-linejoin="round" stroke-linecap="round"/>
<line x1="93.39" y1="447.74" x2="93.39" y2="457.09" stroke="#0a5596" stroke-width="1.8"/>
<line x1="89.49" y1="447.74" x2="97.29" y2="447.74" stroke="#0a5596" stroke-width="1.8"/>
<line x1="89.49" y1="457.09" x2="97.29" y2="457.09" stroke="#0a5596" stroke-width="1.8"/>
<circle cx="93.39" cy="452.42" r="3.1" fill="#0a5596"/>
<line x1="125.5" y1="455.63" x2="125.5" y2="465.87" stroke="#0a5596" stroke-width="1.8"/>
<line x1="121.6" y1="455.63" x2="129.4" y2="455.63" stroke="#0a5596" stroke-width="1.8"/>
<line x1="121.6" y1="465.87" x2="129.4" y2="465.87" stroke="#0a5596" stroke-width="1.8"/>
<circle cx="125.5" cy="460.75" r="3.1" fill="#0a5596"/>
<line x1="157.62" y1="452.85" x2="157.62" y2="457.24" stroke="#0a5596" stroke-width="1.8"/>
<line x1="153.72" y1="452.85" x2="161.52" y2="452.85" stroke="#0a5596" stroke-width="1.8"/>
<line x1="153.72" y1="457.24" x2="161.52" y2="457.24" stroke="#0a5596" stroke-width="1.8"/>
<circle cx="157.62" cy="455.05" r="3.1" fill="#0a5596"/>
<line x1="189.74" y1="436.04" x2="189.74" y2="449.78" stroke="#0a5596" stroke-width="1.8"/>
<line x1="185.84" y1="436.04" x2="193.64" y2="436.04" stroke="#0a5596" stroke-width="1.8"/>
<line x1="185.84" y1="449.78" x2="193.64" y2="449.78" stroke="#0a5596" stroke-width="1.8"/>
<circle cx="189.74" cy="442.91" r="3.1" fill="#0a5596"/>
<line x1="221.85" y1="436.19" x2="221.85" y2="439.7" stroke="#0a5596" stroke-width="1.8"/>
<line x1="217.95" y1="436.19" x2="225.75" y2="436.19" stroke="#0a5596" stroke-width="1.8"/>
<line x1="217.95" y1="439.7" x2="225.75" y2="439.7" stroke="#0a5596" stroke-width="1.8"/>
<circle cx="221.85" cy="437.94" r="3.1" fill="#0a5596"/>
<line x1="253.97" y1="426.54" x2="253.97" y2="441.16" stroke="#0a5596" stroke-width="1.8"/>
<line x1="250.07" y1="426.54" x2="257.87" y2="426.54" stroke="#0a5596" stroke-width="1.8"/>
<line x1="250.07" y1="441.16" x2="257.87" y2="441.16" stroke="#0a5596" stroke-width="1.8"/>
<circle cx="253.97" cy="433.85" r="3.1" fill="#0a5596"/>
<line x1="286.08" y1="429.46" x2="286.08" y2="438.23" stroke="#0a5596" stroke-width="1.8"/>
<line x1="282.18" y1="429.46" x2="289.98" y2="429.46" stroke="#0a5596" stroke-width="1.8"/>
<line x1="282.18" y1="438.23" x2="289.98" y2="438.23" stroke="#0a5596" stroke-width="1.8"/>
<circle cx="286.08" cy="433.85" r="3.1" fill="#0a5596"/>
<path d="M93.39 446.48 L94.99 446.4 L96.6 446.31 L98.21 446.21 L99.81 446.1 L101.42 445.98 L103.02 445.86 L104.63 445.72 L106.23 445.57 L107.84 445.41 L109.45 445.23 L111.05 445.04 L112.66 444.84 L114.26 444.61 L115.87 444.37 L117.47 444.11 L119.08 443.82 L120.69 443.51 L122.29 443.18 L123.9 442.82 L125.5 442.43 L127.11 442.01 L128.72 441.55 L130.32 441.06 L131.93 440.52 L133.53 439.95 L135.14 439.33 L136.74 438.66 L138.35 437.94 L139.96 437.17 L141.56 436.34 L143.17 435.44 L144.77 434.49 L146.38 433.46 L147.99 432.36 L149.59 431.19 L151.2 429.94 L152.8 428.6 L154.41 427.18 L156.01 425.66 L157.62 424.06 L159.23 422.36 L160.83 420.57 L162.44 418.67 L164.04 416.68 L165.65 414.58 L167.25 412.39 L168.86 410.09 L170.47 407.7 L172.07 405.22 L173.68 402.64 L175.28 399.98 L176.89 397.23 L178.5 394.41 L180.1 391.52 L181.71 388.57 L183.31 385.57 L184.92 382.53 L186.52 379.45 L188.13 376.36 L189.74 373.25 L191.34 370.14 L192.95 367.04 L194.55 363.97 L196.16 360.93 L197.76 357.93 L199.37 354.98 L200.98 352.09 L202.58 349.27 L204.19 346.52 L205.79 343.86 L207.4 341.28 L209.01 338.79 L210.61 336.4 L212.22 334.11 L213.82 331.91 L215.43 329.82 L217.03 327.83 L218.64 325.93 L220.25 324.14 L221.85 322.44 L223.46 320.83 L225.06 319.32 L226.67 317.9 L228.28 316.56 L229.88 315.31 L231.49 314.13 L233.09 313.04 L234.7 312.01 L236.3 311.05 L237.91 310.16 L239.52 309.33 L241.12 308.56 L242.73 307.84 L244.33 307.17 L245.94 306.55 L247.54 305.97 L249.15 305.44 L250.76 304.95 L252.36 304.49 L253.97 304.07 L255.57 303.68 L257.18 303.32 L258.79 302.98 L260.39 302.68 L262 302.39 L263.6 302.13 L265.21 301.88 L266.81 301.66 L268.42 301.45 L270.03 301.26 L271.63 301.09 L273.24 300.93 L274.84 300.78 L276.45 300.64 L278.06 300.51 L279.66 300.4 L281.27 300.29 L282.87 300.19 L284.48 300.1 L286.08 300.02" fill="none" stroke="#000" stroke-width="2.1" stroke-linejoin="round" stroke-linecap="round"/>
<line x1="93.39" y1="443.94" x2="93.39" y2="448.91" stroke="#000" stroke-width="1.8"/>
<line x1="89.49" y1="443.94" x2="97.29" y2="443.94" stroke="#000" stroke-width="1.8"/>
<line x1="89.49" y1="448.91" x2="97.29" y2="448.91" stroke="#000" stroke-width="1.8"/>
<path d="M93.39 443.51L96.39 449.33L90.39 449.33Z" fill="#000"/>
<line x1="125.5" y1="435.24" x2="125.5" y2="449.42" stroke="#000" stroke-width="1.8"/>
<line x1="121.6" y1="435.24" x2="129.4" y2="435.24" stroke="#000" stroke-width="1.8"/>
<line x1="121.6" y1="449.42" x2="129.4" y2="449.42" stroke="#000" stroke-width="1.8"/>
<path d="M125.5 439.42L128.5 445.24L122.5 445.24Z" fill="#000"/>
<line x1="157.62" y1="409.73" x2="157.62" y2="434.58" stroke="#000" stroke-width="1.8"/>
<line x1="153.72" y1="409.73" x2="161.52" y2="409.73" stroke="#000" stroke-width="1.8"/>
<line x1="153.72" y1="434.58" x2="161.52" y2="434.58" stroke="#000" stroke-width="1.8"/>
<path d="M157.62 419.24L160.62 425.06L154.62 425.06Z" fill="#000"/>
<line x1="189.74" y1="376.1" x2="189.74" y2="383.41" stroke="#000" stroke-width="1.8"/>
<line x1="185.84" y1="376.1" x2="193.64" y2="376.1" stroke="#000" stroke-width="1.8"/>
<line x1="185.84" y1="383.41" x2="193.64" y2="383.41" stroke="#000" stroke-width="1.8"/>
<path d="M189.74 376.84L192.74 382.66L186.74 382.66Z" fill="#000"/>
<line x1="221.85" y1="307.97" x2="221.85" y2="313.82" stroke="#000" stroke-width="1.8"/>
<line x1="217.95" y1="307.97" x2="225.75" y2="307.97" stroke="#000" stroke-width="1.8"/>
<line x1="217.95" y1="313.82" x2="225.75" y2="313.82" stroke="#000" stroke-width="1.8"/>
<path d="M221.85 307.98L224.85 313.8L218.85 313.8Z" fill="#000"/>
<line x1="253.97" y1="305.34" x2="253.97" y2="308.85" stroke="#000" stroke-width="1.8"/>
<line x1="250.07" y1="305.34" x2="257.87" y2="305.34" stroke="#000" stroke-width="1.8"/>
<line x1="250.07" y1="308.85" x2="257.87" y2="308.85" stroke="#000" stroke-width="1.8"/>
<path d="M253.97 304.18L256.97 310L250.97 310Z" fill="#000"/>
<line x1="286.08" y1="303.73" x2="286.08" y2="306.65" stroke="#000" stroke-width="1.8"/>
<line x1="282.18" y1="303.73" x2="289.98" y2="303.73" stroke="#000" stroke-width="1.8"/>
<line x1="282.18" y1="306.65" x2="289.98" y2="306.65" stroke="#000" stroke-width="1.8"/>
<path d="M286.08 302.28L289.08 308.1L283.08 308.1Z" fill="#000"/>
<line x1="78.4" y1="331.2" x2="98" y2="331.2" stroke="#000" stroke-width="2"/>
<path d="M88.2 328.05L91.45 334.35L84.95 334.35Z" fill="#000"/>
<text x="107.4" y="335.7" font-size="13.8">DMSO</text>
<line x1="78.4" y1="350.7" x2="98" y2="350.7" stroke="#961a08" stroke-width="2"/>
<rect x="84.9" y="347.4" width="6.6" height="6.6" fill="#961a08"/>
<text x="107.40 115.83 127.33 135.00 142.67 150.35 158.02 165.70" y="355.2" font-size="13.8">ZM24 385</text><path d="M763 0L583 0L583 1147C518 1085 412 1023 330 980C280 955 245 940 223 930L223 1104C300 1140 380 1190 453 1249C530 1310 570 1370 590 1409L763 1409Z" transform="translate(142.67 355.20) scale(0.00674 -0.00674)" stroke="#000" stroke-width="37.1"/>
<line x1="78.4" y1="370.2" x2="98" y2="370.2" stroke="#0a5596" stroke-width="2"/>
<circle cx="88.2" cy="370.2" r="3.4" fill="#0a5596"/>
<text x="107.4" y="374.7" font-size="13.8">PGD2</text>
<text x="366" y="280.2" font-size="15" font-weight="bold">d.</text>
<text transform="translate(374.5 378.2) rotate(-90) scale(0.9091 1)" font-size="15.29" text-anchor="middle">% inhibition</text>
<text transform="translate(390.3 378.2) rotate(-90) scale(0.9091 1)" font-size="15.29" text-anchor="middle">(normalized)</text>
<line x1="423.8" y1="295.9" x2="423.8" y2="466.5" stroke="#000" stroke-width="1.8"/>
<line x1="422.9" y1="465.6" x2="678.2" y2="465.6" stroke="#000" stroke-width="1.8"/>
<line x1="418.3" y1="296.5" x2="423.8" y2="296.5" stroke="#000" stroke-width="1.6"/>
<text x="395.84 402.96 410.08" y="300.9" font-size="12.8"> 00</text><path d="M763 0L583 0L583 1147C518 1085 412 1023 330 980C280 955 245 940 223 930L223 1104C300 1140 380 1190 453 1249C530 1310 570 1370 590 1409L763 1409Z" transform="translate(395.84 300.90) scale(0.00625 -0.00625)" stroke="#000" stroke-width="40.0"/>
<line x1="418.3" y1="311.86" x2="423.8" y2="311.86" stroke="#000" stroke-width="1.6"/>
<text x="417.2" y="316.26" font-size="12.8" text-anchor="end">90</text>
<line x1="418.3" y1="327.22" x2="423.8" y2="327.22" stroke="#000" stroke-width="1.6"/>
<text x="417.2" y="331.62" font-size="12.8" text-anchor="end">80</text>
<line x1="418.3" y1="342.58" x2="423.8" y2="342.58" stroke="#000" stroke-width="1.6"/>
<text x="417.2" y="346.98" font-size="12.8" text-anchor="end">70</text>
<line x1="418.3" y1="357.94" x2="423.8" y2="357.94" stroke="#000" stroke-width="1.6"/>
<text x="417.2" y="362.34" font-size="12.8" text-anchor="end">60</text>
<line x1="418.3" y1="373.3" x2="423.8" y2="373.3" stroke="#000" stroke-width="1.6"/>
<text x="417.2" y="377.7" font-size="12.8" text-anchor="end">50</text>
<line x1="418.3" y1="388.66" x2="423.8" y2="388.66" stroke="#000" stroke-width="1.6"/>
<text x="417.2" y="393.06" font-size="12.8" text-anchor="end">40</text>
<line x1="418.3" y1="404.02" x2="423.8" y2="404.02" stroke="#000" stroke-width="1.6"/>
<text x="417.2" y="408.42" font-size="12.8" text-anchor="end">30</text>
<line x1="418.3" y1="419.38" x2="423.8" y2="419.38" stroke="#000" stroke-width="1.6"/>
<text x="417.2" y="423.78" font-size="12.8" text-anchor="end">20</text>
<line x1="418.3" y1="434.74" x2="423.8" y2="434.74" stroke="#000" stroke-width="1.6"/>
<text x="402.96 410.08" y="439.14" font-size="12.8"> 0</text><path d="M763 0L583 0L583 1147C518 1085 412 1023 330 980C280 955 245 940 223 930L223 1104C300 1140 380 1190 453 1249C530 1310 570 1370 590 1409L763 1409Z" transform="translate(402.96 439.14) scale(0.00625 -0.00625)" stroke="#000" stroke-width="40.0"/>
<line x1="418.3" y1="450.1" x2="423.8" y2="450.1" stroke="#000" stroke-width="1.6"/>
<text x="417.2" y="454.5" font-size="12.8" text-anchor="end">0</text>
<line x1="418.3" y1="465.46" x2="423.8" y2="465.46" stroke="#000" stroke-width="1.6"/>
<text x="398.70 402.96 410.08" y="469.86" font-size="12.8">- 0</text><path d="M763 0L583 0L583 1147C518 1085 412 1023 330 980C280 955 245 940 223 930L223 1104C300 1140 380 1190 453 1249C530 1310 570 1370 590 1409L763 1409Z" transform="translate(402.96 469.86) scale(0.00625 -0.00625)" stroke="#000" stroke-width="40.0"/>
<line x1="423.6" y1="465.6" x2="423.6" y2="470.8" stroke="#000" stroke-width="1.6"/>
<text x="412.83 417.09 423.26" y="484" font-size="12.8">-  </text><path d="M763 0L583 0L583 1147C518 1085 412 1023 330 980C280 955 245 940 223 930L223 1104C300 1140 380 1190 453 1249C530 1310 570 1370 590 1409L763 1409Z" transform="translate(417.09 484.00) scale(0.00625 -0.00625)" stroke="#000" stroke-width="40.0"/><path d="M763 0L583 0L583 1147C518 1085 412 1023 330 980C280 955 245 940 223 930L223 1104C300 1140 380 1190 453 1249C530 1310 570 1370 590 1409L763 1409Z" transform="translate(423.26 484.00) scale(0.00625 -0.00625)" stroke="#000" stroke-width="40.0"/>
<line x1="451.8" y1="465.6" x2="451.8" y2="470.8" stroke="#000" stroke-width="1.6"/>
<text x="440.55 444.81 451.93" y="484" font-size="12.8">- 0</text><path d="M763 0L583 0L583 1147C518 1085 412 1023 330 980C280 955 245 940 223 930L223 1104C300 1140 380 1190 453 1249C530 1310 570 1370 590 1409L763 1409Z" transform="translate(444.81 484.00) scale(0.00625 -0.00625)" stroke="#000" stroke-width="40.0"/>
<line x1="480" y1="465.6" x2="480" y2="470.8" stroke="#000" stroke-width="1.6"/>
<text x="478" y="484" font-size="12.8" text-anchor="middle">-9</text>
<line x1="508.2" y1="465.6" x2="508.2" y2="470.8" stroke="#000" stroke-width="1.6"/>
<text x="506.2" y="484" font-size="12.8" text-anchor="middle">-8</text>
<line x1="536.4" y1="465.6" x2="536.4" y2="470.8" stroke="#000" stroke-width="1.6"/>
<text x="534.4" y="484" font-size="12.8" text-anchor="middle">-7</text>
<line x1="564.6" y1="465.6" x2="564.6" y2="470.8" stroke="#000" stroke-width="1.6"/>
<text x="562.6" y="484" font-size="12.8" text-anchor="middle">-6</text>
<line x1="592.8" y1="465.6" x2="592.8" y2="470.8" stroke="#000" stroke-width="1.6"/>
<text x="590.8" y="484" font-size="12.8" text-anchor="middle">-5</text>
<line x1="621" y1="465.6" x2="621" y2="470.8" stroke="#000" stroke-width="1.6"/>
<text x="619" y="484" font-size="12.8" text-anchor="middle">-4</text>
<line x1="649.2" y1="465.6" x2="649.2" y2="470.8" stroke="#000" stroke-width="1.6"/>
<text x="647.2" y="484" font-size="12.8" text-anchor="middle">-3</text>
<line x1="677.4" y1="465.6" x2="677.4" y2="470.8" stroke="#000" stroke-width="1.6"/>
<text x="675.4" y="484" font-size="12.8" text-anchor="middle">-2</text>
<text x="550.9" y="501.6" font-size="14.1" text-anchor="middle">log [inhibitor (M)]</text>
<path d="M434.6 448.55 L436.3 448.44 L437.99 448.32 L439.69 448.2 L441.38 448.07 L443.08 447.92 L444.77 447.77 L446.47 447.61 L448.16 447.43 L449.86 447.25 L451.55 447.05 L453.25 446.84 L454.94 446.61 L456.64 446.37 L458.33 446.11 L460.03 445.83 L461.72 445.54 L463.42 445.23 L465.11 444.89 L466.81 444.54 L468.5 444.16 L470.2 443.75 L471.89 443.32 L473.59 442.86 L475.28 442.37 L476.98 441.85 L478.67 441.3 L480.37 440.71 L482.06 440.09 L483.75 439.42 L485.45 438.72 L487.15 437.98 L488.84 437.19 L490.54 436.35 L492.23 435.47 L493.93 434.53 L495.62 433.55 L497.32 432.51 L499.01 431.41 L500.71 430.25 L502.4 429.03 L504.1 427.75 L505.79 426.41 L507.49 425 L509.18 423.53 L510.88 421.98 L512.57 420.37 L514.26 418.69 L515.96 416.94 L517.65 415.12 L519.35 413.23 L521.05 411.27 L522.74 409.25 L524.44 407.16 L526.13 405 L527.83 402.78 L529.52 400.5 L531.22 398.17 L532.91 395.78 L534.61 393.35 L536.3 390.87 L538 388.35 L539.69 385.8 L541.38 383.22 L543.08 380.62 L544.77 378 L546.47 375.37 L548.16 372.73 L549.86 370.1 L551.56 367.47 L553.25 364.86 L554.95 362.26 L556.64 359.69 L558.34 357.16 L560.03 354.66 L561.73 352.2 L563.42 349.78 L565.12 347.42 L566.81 345.11 L568.5 342.86 L570.2 340.66 L571.89 338.54 L573.59 336.47 L575.29 334.48 L576.98 332.55 L578.67 330.69 L580.37 328.9 L582.07 327.18 L583.76 325.53 L585.46 323.94 L587.15 322.43 L588.85 320.98 L590.54 319.6 L592.24 318.29 L593.93 317.04 L595.62 315.84 L597.32 314.71 L599.01 313.64 L600.71 312.62 L602.4 311.66 L604.1 310.74" fill="none" stroke="#961a08" stroke-width="2.1" stroke-linejoin="round" stroke-linecap="round"/>
<path d="M488 451.6 L560 451.6 L640 451.5 L655 451 L661.3 449.8" fill="none" stroke="#000" stroke-width="1.8" stroke-linejoin="round" stroke-linecap="round"/>
<path d="M497.5 447.8 L500.02 447.79 L503.4 447.79 L507.42 447.78 L511.88 447.77 L516.57 447.76 L521.29 447.74 L525.83 447.72 L530 447.7 L533.87 447.67 L537.68 447.64 L541.43 447.61 L545.16 447.57 L548.86 447.54 L552.56 447.49 L556.27 447.45 L560 447.4 L563.89 447.35 L568 447.3 L572.18 447.24 L576.32 447.18 L580.3 447.12 L583.99 447.05 L587.26 446.98 L590 446.9 L592.12 446.82 L593.69 446.73 L594.86 446.64 L595.73 446.55 L596.44 446.45 L597.1 446.34 L597.85 446.23 L598.8 446.1 L599.89 445.97 L600.98 445.82 L602.07 445.68 L603.15 445.52 L604.23 445.35 L605.32 445.18 L606.41 444.99 L607.5 444.8 L608.6 444.6 L609.7 444.4 L610.8 444.19 L611.9 443.97 L613 443.73 L614.1 443.48 L615.2 443.2 L616.3 442.9 L617.39 442.57 L618.48 442.23 L619.57 441.87 L620.65 441.49 L621.73 441.09 L622.82 440.66 L623.91 440.2 L625 439.7 L626.11 439.16 L627.24 438.58 L628.37 437.96 L629.51 437.32 L630.63 436.66 L631.72 436 L632.79 435.34 L633.8 434.7 L634.77 434.09 L635.71 433.5 L636.61 432.91 L637.49 432.32 L638.35 431.71 L639.18 431.07 L640 430.37 L640.8 429.6 L641.57 428.79 L642.3 427.96 L643.01 427.09 L643.7 426.18 L644.38 425.21 L645.07 424.16 L645.77 423.03 L646.5 421.8 L647.26 420.43 L648.04 418.93 L648.84 417.33 L649.64 415.66 L650.44 413.95 L651.22 412.25 L651.98 410.59 L652.7 409 L653.39 407.47 L654.06 405.96 L654.71 404.47 L655.34 402.99 L655.96 401.52 L656.56 400.05 L657.14 398.58 L657.7 397.1 L658.25 395.62 L658.77 394.14 L659.28 392.67 L659.78 391.19 L660.25 389.72 L660.71 388.25 L661.16 386.77 L661.6 385.3 L662.02 383.82 L662.43 382.35 L662.82 380.88 L663.2 379.4 L663.57 377.93 L663.92 376.45 L664.26 374.98 L664.6 373.5 L664.92 372.03 L665.23 370.56 L665.53 369.09 L665.81 367.62 L666.09 366.15 L666.36 364.68 L666.63 363.19 L666.9 361.7 L667.18 360.11 L667.47 358.39 L667.76 356.62 L668.04 354.86 L668.31 353.2 L668.55 351.7 L668.75 350.44 L668.9 349.5" fill="none" stroke="#0a5596" stroke-width="2.1" stroke-linejoin="round" stroke-linecap="round"/>
<line x1="434.6" y1="448.41" x2="434.6" y2="450.87" stroke="#961a08" stroke-width="1.8"/>
<line x1="430.8" y1="448.41" x2="438.4" y2="448.41" stroke="#961a08" stroke-width="1.8"/>
<line x1="430.8" y1="450.87" x2="438.4" y2="450.87" stroke="#961a08" stroke-width="1.8"/>
<rect x="431.45" y="446.49" width="6.3" height="6.3" fill="#961a08"/>
<line x1="462.85" y1="443.34" x2="462.85" y2="446.41" stroke="#961a08" stroke-width="1.8"/>
<line x1="459.05" y1="443.34" x2="466.65" y2="443.34" stroke="#961a08" stroke-width="1.8"/>
<line x1="459.05" y1="446.41" x2="466.65" y2="446.41" stroke="#961a08" stroke-width="1.8"/>
<rect x="459.7" y="441.73" width="6.3" height="6.3" fill="#961a08"/>
<line x1="491.1" y1="431.51" x2="491.1" y2="435.2" stroke="#961a08" stroke-width="1.8"/>
<line x1="487.3" y1="431.51" x2="494.9" y2="431.51" stroke="#961a08" stroke-width="1.8"/>
<line x1="487.3" y1="435.2" x2="494.9" y2="435.2" stroke="#961a08" stroke-width="1.8"/>
<rect x="487.95" y="430.21" width="6.3" height="6.3" fill="#961a08"/>
<line x1="519.35" y1="411.39" x2="519.35" y2="414.46" stroke="#961a08" stroke-width="1.8"/>
<line x1="515.55" y1="411.39" x2="523.15" y2="411.39" stroke="#961a08" stroke-width="1.8"/>
<line x1="515.55" y1="414.46" x2="523.15" y2="414.46" stroke="#961a08" stroke-width="1.8"/>
<rect x="516.2" y="409.78" width="6.3" height="6.3" fill="#961a08"/>
<line x1="547.6" y1="369.61" x2="547.6" y2="374.22" stroke="#961a08" stroke-width="1.8"/>
<line x1="543.8" y1="369.61" x2="551.4" y2="369.61" stroke="#961a08" stroke-width="1.8"/>
<line x1="543.8" y1="374.22" x2="551.4" y2="374.22" stroke="#961a08" stroke-width="1.8"/>
<rect x="544.45" y="368.77" width="6.3" height="6.3" fill="#961a08"/>
<line x1="575.85" y1="331.21" x2="575.85" y2="335.82" stroke="#961a08" stroke-width="1.8"/>
<line x1="572.05" y1="331.21" x2="579.65" y2="331.21" stroke="#961a08" stroke-width="1.8"/>
<line x1="572.05" y1="335.82" x2="579.65" y2="335.82" stroke="#961a08" stroke-width="1.8"/>
<rect x="572.7" y="330.37" width="6.3" height="6.3" fill="#961a08"/>
<line x1="604.1" y1="300.8" x2="604.1" y2="322.92" stroke="#961a08" stroke-width="1.8"/>
<line x1="600.3" y1="300.8" x2="607.9" y2="300.8" stroke="#961a08" stroke-width="1.8"/>
<line x1="600.3" y1="322.92" x2="607.9" y2="322.92" stroke="#961a08" stroke-width="1.8"/>
<rect x="600.95" y="308.71" width="6.3" height="6.3" fill="#961a08"/>
<line x1="491.1" y1="452.71" x2="491.1" y2="455.78" stroke="#000" stroke-width="1.6"/>
<line x1="487.3" y1="452.71" x2="494.9" y2="452.71" stroke="#000" stroke-width="1.6"/>
<line x1="487.3" y1="455.78" x2="494.9" y2="455.78" stroke="#000" stroke-width="1.6"/>
<path d="M491.1 451.24L494.2 457.25L488 457.25Z" fill="#000"/>
<line x1="519.35" y1="444.26" x2="519.35" y2="456.24" stroke="#000" stroke-width="1.6"/>
<line x1="515.55" y1="444.26" x2="523.15" y2="444.26" stroke="#000" stroke-width="1.6"/>
<line x1="515.55" y1="456.24" x2="523.15" y2="456.24" stroke="#000" stroke-width="1.6"/>
<path d="M519.35 447.25L522.45 453.26L516.25 453.26Z" fill="#000"/>
<line x1="547.6" y1="451.18" x2="547.6" y2="454.25" stroke="#000" stroke-width="1.6"/>
<line x1="543.8" y1="451.18" x2="551.4" y2="451.18" stroke="#000" stroke-width="1.6"/>
<line x1="543.8" y1="454.25" x2="551.4" y2="454.25" stroke="#000" stroke-width="1.6"/>
<path d="M547.6 449.7L550.7 455.72L544.5 455.72Z" fill="#000"/>
<line x1="575.85" y1="449.72" x2="575.85" y2="455.71" stroke="#000" stroke-width="1.6"/>
<line x1="572.05" y1="449.72" x2="579.65" y2="449.72" stroke="#000" stroke-width="1.6"/>
<line x1="572.05" y1="455.71" x2="579.65" y2="455.71" stroke="#000" stroke-width="1.6"/>
<path d="M575.85 449.7L578.95 455.72L572.75 455.72Z" fill="#000"/>
<line x1="604.1" y1="449.64" x2="604.1" y2="454.25" stroke="#000" stroke-width="1.6"/>
<line x1="600.3" y1="449.64" x2="607.9" y2="449.64" stroke="#000" stroke-width="1.6"/>
<line x1="600.3" y1="454.25" x2="607.9" y2="454.25" stroke="#000" stroke-width="1.6"/>
<path d="M604.1 448.94L607.2 454.95L601 454.95Z" fill="#000"/>
<line x1="632.35" y1="450.41" x2="632.35" y2="454.09" stroke="#000" stroke-width="1.6"/>
<line x1="628.55" y1="450.41" x2="636.15" y2="450.41" stroke="#000" stroke-width="1.6"/>
<line x1="628.55" y1="454.09" x2="636.15" y2="454.09" stroke="#000" stroke-width="1.6"/>
<path d="M632.35 449.24L635.45 455.26L629.25 455.26Z" fill="#000"/>
<line x1="660.6" y1="448.1" x2="660.6" y2="451.18" stroke="#000" stroke-width="1.6"/>
<line x1="656.8" y1="448.1" x2="664.4" y2="448.1" stroke="#000" stroke-width="1.6"/>
<line x1="656.8" y1="451.18" x2="664.4" y2="451.18" stroke="#000" stroke-width="1.6"/>
<path d="M660.6 446.63L663.7 452.65L657.5 452.65Z" fill="#000"/>
<line x1="499.7" y1="444.88" x2="499.7" y2="454.09" stroke="#0a5596" stroke-width="1.8"/>
<line x1="495.9" y1="444.88" x2="503.5" y2="444.88" stroke="#0a5596" stroke-width="1.8"/>
<line x1="495.9" y1="454.09" x2="503.5" y2="454.09" stroke="#0a5596" stroke-width="1.8"/>
<circle cx="499.7" cy="449.49" r="3.1" fill="#0a5596"/>
<line x1="527.9" y1="449.79" x2="527.9" y2="451.64" stroke="#0a5596" stroke-width="1.8"/>
<line x1="524.1" y1="449.79" x2="531.7" y2="449.79" stroke="#0a5596" stroke-width="1.8"/>
<line x1="524.1" y1="451.64" x2="531.7" y2="451.64" stroke="#0a5596" stroke-width="1.8"/>
<circle cx="527.9" cy="450.71" r="3.1" fill="#0a5596"/>
<line x1="556.1" y1="444.8" x2="556.1" y2="450.79" stroke="#0a5596" stroke-width="1.8"/>
<line x1="552.3" y1="444.8" x2="559.9" y2="444.8" stroke="#0a5596" stroke-width="1.8"/>
<line x1="552.3" y1="450.79" x2="559.9" y2="450.79" stroke="#0a5596" stroke-width="1.8"/>
<circle cx="556.1" cy="447.8" r="3.1" fill="#0a5596"/>
<line x1="584.3" y1="444.11" x2="584.3" y2="448.41" stroke="#0a5596" stroke-width="1.8"/>
<line x1="580.5" y1="444.11" x2="588.1" y2="444.11" stroke="#0a5596" stroke-width="1.8"/>
<line x1="580.5" y1="448.41" x2="588.1" y2="448.41" stroke="#0a5596" stroke-width="1.8"/>
<circle cx="584.3" cy="446.26" r="3.1" fill="#0a5596"/>
<line x1="612.5" y1="438.12" x2="612.5" y2="442.73" stroke="#0a5596" stroke-width="1.8"/>
<line x1="608.7" y1="438.12" x2="616.3" y2="438.12" stroke="#0a5596" stroke-width="1.8"/>
<line x1="608.7" y1="442.73" x2="616.3" y2="442.73" stroke="#0a5596" stroke-width="1.8"/>
<circle cx="612.5" cy="440.42" r="3.1" fill="#0a5596"/>
<line x1="640.7" y1="426.05" x2="640.7" y2="435.14" stroke="#0a5596" stroke-width="1.8"/>
<line x1="636.9" y1="426.05" x2="644.5" y2="426.05" stroke="#0a5596" stroke-width="1.8"/>
<line x1="636.9" y1="435.14" x2="644.5" y2="435.14" stroke="#0a5596" stroke-width="1.8"/>
<circle cx="640.7" cy="430.59" r="3.1" fill="#0a5596"/>
<line x1="668.9" y1="338.59" x2="668.9" y2="360.09" stroke="#0a5596" stroke-width="1.8"/>
<line x1="665.1" y1="338.59" x2="672.7" y2="338.59" stroke="#0a5596" stroke-width="1.8"/>
<line x1="665.1" y1="360.09" x2="672.7" y2="360.09" stroke="#0a5596" stroke-width="1.8"/>
<circle cx="668.9" cy="349.34" r="3.1" fill="#0a5596"/>
<line x1="439.3" y1="330.9" x2="452.8" y2="330.9" stroke="#000" stroke-width="2"/>
<path d="M446 328.09L448.9 333.71L443.1 333.71Z" fill="#000"/>
<text x="458" y="335.8" font-size="14">PGE2</text>
<line x1="439.3" y1="351.3" x2="452.8" y2="351.3" stroke="#961a08" stroke-width="2"/>
<rect x="443" y="348.3" width="6" height="6" fill="#961a08"/>
<text x="458.00 466.55 478.21 486.00 493.79 501.57 509.36 517.14" y="356.2" font-size="14">ZM24 385</text><path d="M763 0L583 0L583 1147C518 1085 412 1023 330 980C280 955 245 940 223 930L223 1104C300 1140 380 1190 453 1249C530 1310 570 1370 590 1409L763 1409Z" transform="translate(493.79 356.20) scale(0.00684 -0.00684)" stroke="#000" stroke-width="36.6"/>
<line x1="439.3" y1="371.7" x2="452.8" y2="371.7" stroke="#0a5596" stroke-width="2"/>
<circle cx="446" cy="371.7" r="3" fill="#0a5596"/>
<text x="458" y="376.6" font-size="14">PGD2</text>
</svg>
</body></html>
